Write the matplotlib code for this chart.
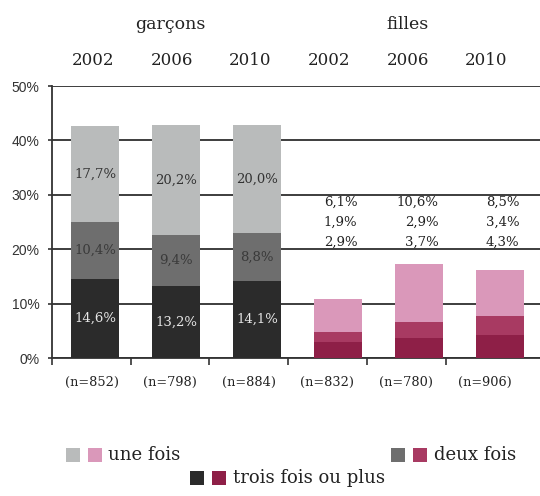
import matplotlib
matplotlib.use("Agg")
import matplotlib.pyplot as plt
from matplotlib.patches import Rectangle

groups = ["garçons", "filles"]
years = ["2002", "2006", "2010", "2002", "2006", "2010"]
n_labels = ["(n=852)", "(n=798)", "(n=884)", "(n=832)", "(n=780)", "(n=906)"]
trois = [14.6, 13.2, 14.1, 2.9, 3.7, 4.3]
deux = [10.4, 9.4, 8.8, 1.9, 2.9, 3.4]
une = [17.7, 20.2, 20.0, 6.1, 10.6, 8.5]
legend_labels = ["une fois", "deux fois", "trois fois ou plus"]

boy_cols = {"trois": "#2b2b2b", "deux": "#6e6e6e", "une": "#b9bbbb"}
girl_cols = {"trois": "#8e1f47", "deux": "#a83a62", "une": "#da98ba"}

def fmt(v):
    return f"{v:.1f}".replace(".", ",") + "%"

W, H = 540, 496
fig = plt.figure(figsize=(W / 100, H / 100), dpi=100)
ax = fig.add_axes([52 / W, 1 - 358 / H, (540 - 52) / W, (358 - 86) / H])

serif = "DejaVu Serif"
x = list(range(6))
bw = 0.593
for i in x:
    cols = boy_cols if i < 3 else girl_cols
    ax.bar(i, trois[i], bw, color=cols["trois"], zorder=3)
    ax.bar(i, deux[i], bw, bottom=trois[i], color=cols["deux"], zorder=3)
    ax.bar(i, une[i], bw, bottom=trois[i] + deux[i], color=cols["une"], zorder=3)
    if i < 3:
        ax.text(i, trois[i] / 2, fmt(trois[i]), ha="center", va="center",
                fontsize=9.5, family=serif, color="#e6e6e6", zorder=4)
        ax.text(i, trois[i] + deux[i] / 2, fmt(deux[i]), ha="center", va="center",
                fontsize=9.5, family=serif, color="#3a3a3a", zorder=4)
        ax.text(i, trois[i] + deux[i] + une[i] / 2, fmt(une[i]), ha="center", va="center",
                fontsize=9.5, family=serif, color="#333333", zorder=4)
    else:
        for val, yy in zip([une[i], deux[i], trois[i]], [28.7, 25.0, 21.3]):
            ax.text(i + 0.24, yy, fmt(val), ha="right", va="center",
                    fontsize=9.5, family=serif, color="#222222", zorder=4)

ax.set_xlim(-0.531, 5.494)
ax.set_ylim(0, 50)
ax.set_yticks([0, 10, 20, 30, 40, 50])
ax.set_yticklabels([f"{v}%" for v in [0, 10, 20, 30, 40, 50]],
                   family="Liberation Sans", fontsize=10, color="#333333")
ax.tick_params(axis="y", length=3, width=1.2, color="#333333", pad=6)
ax.set_xticks([-0.531 + 0.972 * k for k in range(6)])
ax.set_xticklabels([])
ax.tick_params(axis="x", length=5, width=1.2, color="#333333")
ax.yaxis.grid(True, color="#2e2e2e", linewidth=1.3, zorder=1)
ax.set_axisbelow(True)
for s in ["top", "right"]:
    ax.spines[s].set_visible(False)
for s in ["left", "bottom"]:
    ax.spines[s].set_color("#333333")
    ax.spines[s].set_linewidth(1.3)

lab_pos = [0.97 * i - 0.02 for i in x]
trans = ax.get_xaxis_transform()
for i in x:
    ax.text(lab_pos[i], 1 + 26 / 272, years[i], transform=trans, ha="center", va="center",
            fontsize=12, family=serif, color="#222222")
    ax.text(lab_pos[i] - 0.02, -24 / 272, n_labels[i], transform=trans, ha="center", va="center",
            fontsize=9.3, family=serif, color="#222222")
ax.text((lab_pos[0] + lab_pos[2]) / 2 - 0.02, 1 + 62 / 272, groups[0], transform=trans,
        ha="center", va="center", fontsize=12.5, family=serif, color="#222222")
ax.text((lab_pos[3] + lab_pos[5]) / 2, 1 + 62 / 272, groups[1], transform=trans,
        ha="center", va="center", fontsize=12.5, family=serif, color="#222222")

# legend drawn in figure pixel space
def sq(px, py, col):
    fig.patches.append(Rectangle((px / W, 1 - (py + 7) / H), 14 / W, 14 / H,
                                 transform=fig.transFigure, facecolor=col,
                                 edgecolor="none"))

entries = [
    (66, 88, 108, 455, "une", legend_labels[0]),
    (391, 413, 434, 455, "deux", legend_labels[1]),
    (190, 212, 233, 478, "trois", legend_labels[2]),
]
for gx, px_, tx, cy, key, lab in entries:
    sq(gx, cy, boy_cols[key])
    sq(px_, cy, girl_cols[key])
    fig.text(tx / W, 1 - cy / H, lab, ha="left", va="center", fontsize=13,
             family=serif, color="#222222")

fig.savefig("out.png", dpi=100)
